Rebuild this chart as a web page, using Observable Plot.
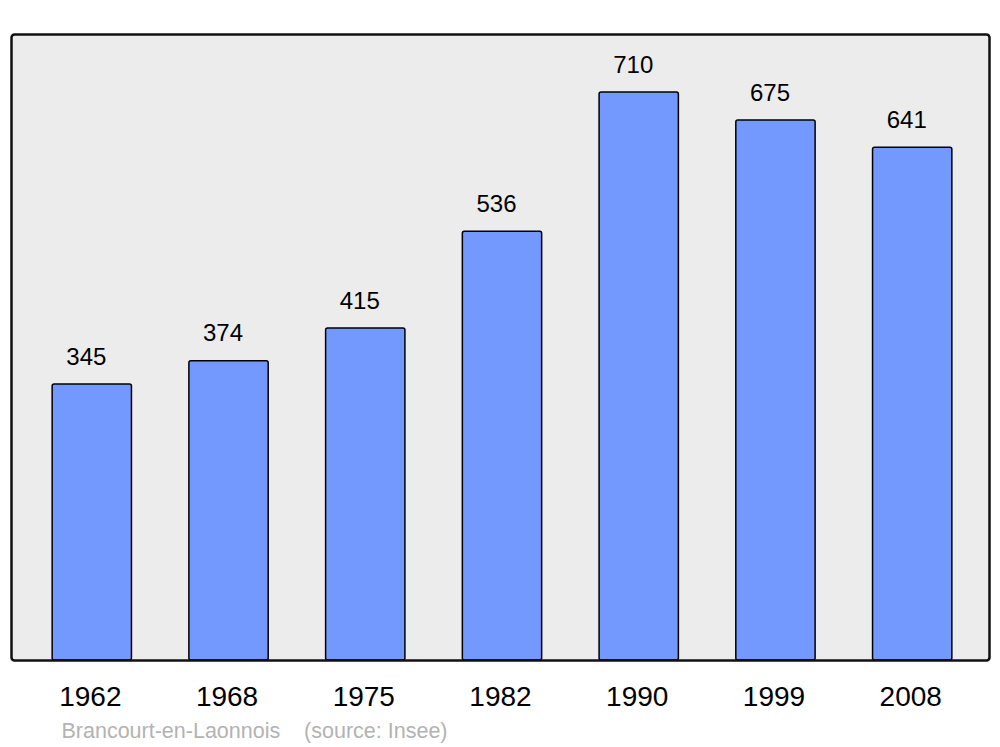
<!DOCTYPE html>
<html>
<head>
<meta charset="utf-8">
<script src="https://cdn.jsdelivr.net/npm/d3@7"></script>
<script src="https://cdn.jsdelivr.net/npm/@observablehq/plot@0.6"></script>
<style>
  html, body { margin: 0; padding: 0; background: #fff; }
  #chart svg { display: block; }
</style>
</head>
<body>
<div id="chart"></div>
<script>
const years = ["1962", "1968", "1975", "1982", "1990", "1999", "2008"];
const population = [345, 374, 415, 536, 710, 675, 641];
const footer = ["Brancourt-en-Laonnois\u00a0\u00a0\u00a0\u00a0(source: Insee)"];

const data = years.map((y, i) => ({year: y, pop: population[i]}));

const chart = Plot.plot({
  width: 1000,
  height: 747,
  marginLeft: 11,
  marginRight: 11,
  marginTop: 34,
  marginBottom: 87,
  style: {fontFamily: "'Liberation Sans', Arial, sans-serif", background: "#ffffff"},
  x: {domain: years, paddingInner: 0.42, paddingOuter: 0.29, insetLeft: 1.5, insetRight: -2.5, round: false, label: null},
  y: {domain: [0, 782.5], axis: null},
  marks: [
    Plot.frame({fill: "#ececec", stroke: null}),
    Plot.barY(data, {x: "year", y: "pop", fill: "#7399ff", stroke: "#000", strokeWidth: 1.5, rx: 2}),
    Plot.text(data, {x: "year", y: "pop", text: d => String(d.pop), dy: -20, dx: -6, lineAnchor: "bottom", fontSize: 24, fill: "#000"}),
    Plot.axisX({tickSize: 0, tickPadding: 26, fontSize: 28, dx: -2, color: "#000", label: null}),
    Plot.frame({stroke: "#111", strokeWidth: 2.5, rx: 3, fill: "none"}),
    Plot.text(footer, {frameAnchor: "bottom-left", dx: 50, dy: 77, lineAnchor: "bottom", textAnchor: "start", fontSize: 21.5, fill: "#b3b3b3"})
  ]
});
document.getElementById("chart").appendChild(chart);
</script>
</body>
</html>
